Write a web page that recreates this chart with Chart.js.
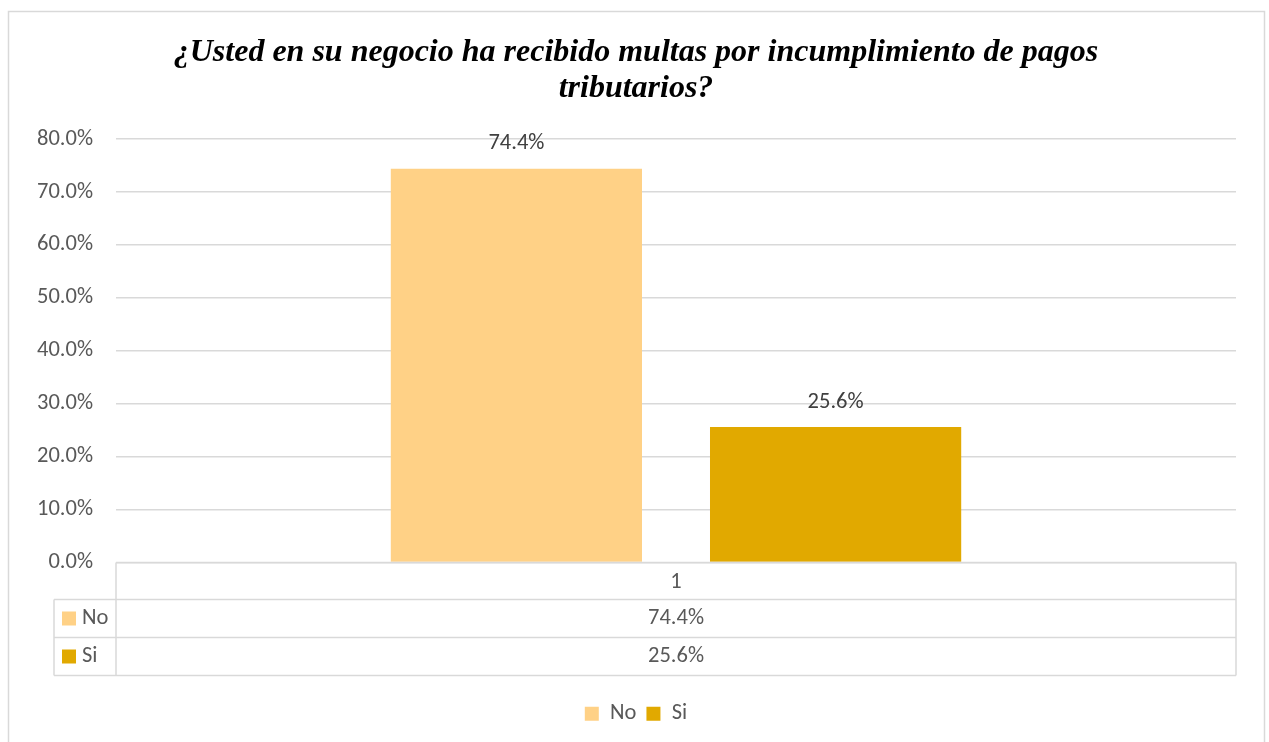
<!DOCTYPE html>
<html>
<head>
<meta charset="utf-8">
<script src="https://cdn.jsdelivr.net/npm/chart.js@4.4.1/dist/chart.umd.min.js"></script>
<style>
  html, body { margin: 0; padding: 0; background: #fff; }
  #wrap { width: 1269px; height: 742px; position: relative; }
</style>
</head>
<body>
<div id="wrap"><canvas id="chart"></canvas></div>
<script>
// datos del gráfico
const categories = ['1'];
const noValues = [74.4];
const siValues = [25.6];
const seriesLabels = ['No', 'Si'];
const titleLines = ['¿Usted en su negocio ha recibido multas por incumplimiento de pagos', 'tributarios?'];

const FONT = 'Carlito, Lato, "Open Sans", sans-serif';
const FSIZE = 22.5;
const TEXT = '#595959';
const LINE = '#d9d9d9';
const pct = v => v.toFixed(1) + '%';

// marco exterior del gráfico
const frame = {
  id: 'frame',
  beforeDraw(chart) {
    const ctx = chart.ctx;
    ctx.save();
    ctx.fillStyle = '#fff';
    ctx.fillRect(0, 0, chart.width, chart.height);
    ctx.strokeStyle = LINE;
    ctx.lineWidth = 1.5;
    ctx.strokeRect(8.5, 11.5, 1256, 740);
    ctx.restore();
  }
};

// etiquetas de valor encima de cada barra
const barLabels = {
  id: 'barLabels',
  afterDatasetsDraw(chart) {
    const ctx = chart.ctx;
    ctx.save();
    ctx.font = FSIZE + 'px ' + FONT;
    ctx.fillStyle = '#404040';
    ctx.textAlign = 'center';
    ctx.textBaseline = 'middle';
    chart.data.datasets.forEach((ds, i) => {
      chart.getDatasetMeta(i).data.forEach((bar, j) => {
        ctx.fillText(pct(ds.data[j]), bar.x, bar.y - 25);
      });
    });
    ctx.restore();
  }
};

// tabla de datos bajo el eje X (como en Excel)
const dataTable = {
  id: 'dataTable',
  afterDraw(chart) {
    const { ctx, chartArea: a } = chart;
    const x = chart.scales.x;
    const xL = 54;
    const y0 = a.bottom, y1 = y0 + 37, y2 = y1 + 38, y3 = y2 + 38;
    ctx.save();
    ctx.strokeStyle = LINE;
    ctx.lineWidth = 1.5;
    ctx.beginPath();
    ctx.moveTo(a.left, y0); ctx.lineTo(a.right, y0);
    ctx.moveTo(xL, y1); ctx.lineTo(a.right, y1);
    ctx.moveTo(xL, y2); ctx.lineTo(a.right, y2);
    ctx.moveTo(xL, y3); ctx.lineTo(a.right, y3);
    ctx.moveTo(a.left, y0); ctx.lineTo(a.left, y3);
    ctx.moveTo(xL, y1); ctx.lineTo(xL, y3);
    ctx.moveTo(a.right, y0); ctx.lineTo(a.right, y3);
    ctx.stroke();

    ctx.font = FSIZE + 'px ' + FONT;
    ctx.textBaseline = 'middle';
    const rows = [(y1 + y2) / 2, (y2 + y3) / 2];
    chart.data.datasets.forEach((ds, i) => {
      const yc = rows[i];
      ctx.fillStyle = ds.backgroundColor;
      ctx.fillRect(xL + 8, yc - 7, 14, 14);
      ctx.fillStyle = TEXT;
      ctx.textAlign = 'left';
      ctx.fillText(ds.label, xL + 28, yc);
      ctx.textAlign = 'center';
      ds.data.forEach((v, j) => ctx.fillText(pct(v), x.getPixelForValue(j), yc));
    });
    ctx.restore();
  }
};

new Chart(document.getElementById('chart'), {
  type: 'bar',
  data: {
    labels: categories,
    datasets: [
      { label: seriesLabels[0], data: noValues, backgroundColor: '#ffd186' },
      { label: seriesLabels[1], data: siValues, backgroundColor: '#e1a900' }
    ]
  },
  options: {
    responsive: true,
    maintainAspectRatio: false,
    animation: false,
    datasets: { bar: { categoryPercentage: 0.57, barPercentage: 0.787 } },
    layout: { padding: { top: 12, right: 33, bottom: 7, left: 36 } },
    plugins: {
      title: {
        display: true,
        text: titleLines,
        color: '#000',
        font: { family: '"Liberation Serif", "Times New Roman", serif', size: 32, style: 'italic', weight: 'bold', lineHeight: 1.12 },
        padding: { top: 23.1, bottom: 32.2 }
      },
      legend: {
        position: 'bottom',
        labels: { color: TEXT, font: { family: FONT, size: FSIZE }, boxWidth: 14, boxHeight: 14, padding: 10 }
      },
      tooltip: { enabled: false }
    },
    scales: {
      x: {
        grid: { display: false, drawTicks: false },
        border: { display: false },
        ticks: { color: TEXT, font: { family: FONT, size: FSIZE }, padding: 6 },
        afterFit(s) { s.height = 130; }
      },
      y: {
        min: 0, max: 80,
        grid: { color: LINE, lineWidth: 1.5, drawTicks: false },
        border: { display: false },
        ticks: { stepSize: 10, color: TEXT, font: { family: FONT, size: FSIZE }, padding: 23, callback: v => pct(v) },
        afterFit(s) { s.width = 80; }
      }
    }
  },
  plugins: [frame, barLabels, dataTable]
});
</script>
</body>
</html>
